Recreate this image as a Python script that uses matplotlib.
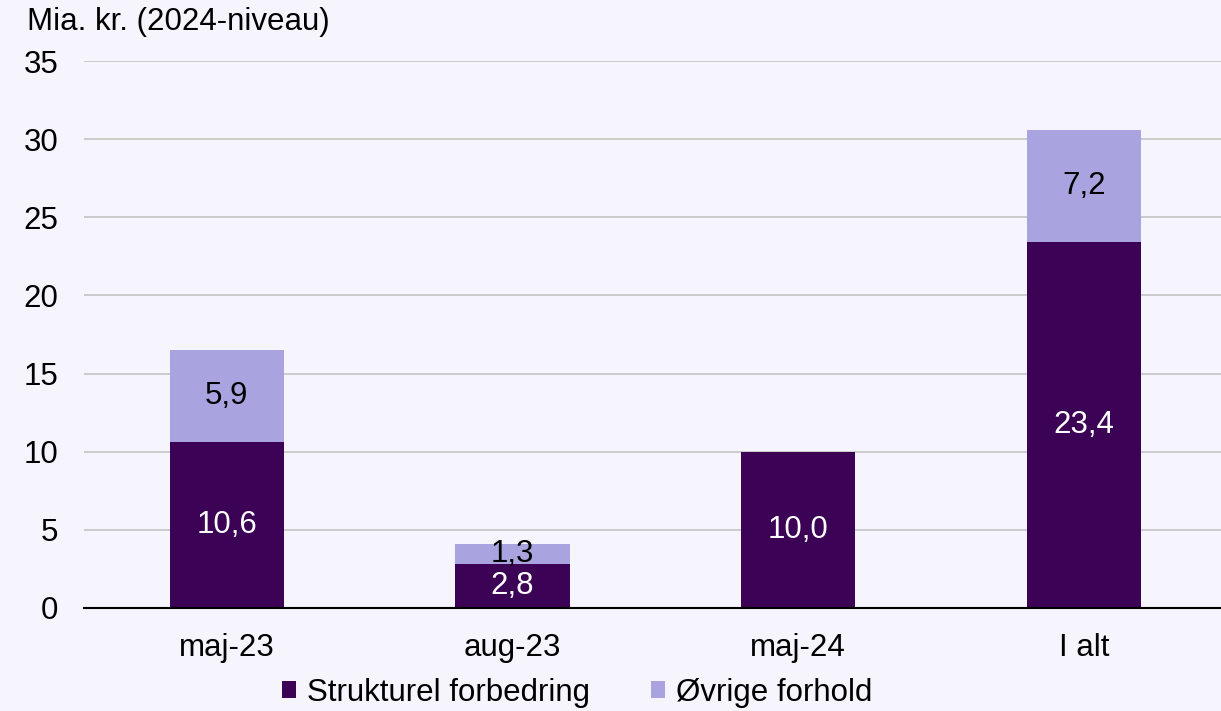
import matplotlib
matplotlib.use("Agg")
import matplotlib.pyplot as plt
import numpy as np

categories = ["maj-23", "aug-23", "maj-24", "I alt"]
strukturel = [10.6, 2.8, 10.0, 23.4]
ovrige = [5.9, 1.3, 0.0, 7.2]
series_names = ["Strukturel forbedring", "Øvrige forhold"]
yticks = [0, 5, 10, 15, 20, 25, 30, 35]

bg = "#F6F5FE"
dark = "#3B0256"
light = "#A9A4DF"

plt.rcParams['font.family'] = ['Liberation Sans', 'DejaVu Sans']

fig = plt.figure(figsize=(12.21, 7.11), dpi=100, facecolor=bg)
ax = fig.add_axes([0.0688, 0.1449, 0.9312, 0.7693], facecolor=bg)

x = np.arange(len(categories))
w = 0.4
b1 = ax.bar(x, strukturel, w, color=dark, label=series_names[0], zorder=3)
b2 = ax.bar(x, ovrige, w, bottom=strukturel, color=light, label=series_names[1], zorder=3)

fs = 22.5
for i in range(len(categories)):
    s = strukturel[i]
    o = ovrige[i]
    ax.text(x[i], s / 2, f"{s:.1f}".replace(".", ","), ha="center", va="center",
            color="white", fontsize=fs, zorder=4)
    if o > 0:
        ax.text(x[i], s + o / 2, f"{o:.1f}".replace(".", ","), ha="center", va="center",
                color="black", fontsize=fs, zorder=4)

ax.set_ylim(0, 35)
ax.set_xlim(-0.5, 3.48)
ax.set_yticks(yticks)
ax.set_yticklabels([str(t) for t in yticks], fontsize=fs)
ax.set_xticks(x)
ax.set_xticklabels(categories, fontsize=fs)
ax.tick_params(axis="y", length=0, pad=18.5)
ax.tick_params(axis="x", length=0, pad=18)
ax.grid(axis="y", color="#C8C8C8", linewidth=1.3, zorder=0)
for sp in ["top", "right", "left"]:
    ax.spines[sp].set_visible(False)
ax.spines["bottom"].set_color("black")
ax.spines["bottom"].set_linewidth(1.5)
ax.spines["bottom"].set_zorder(5)

fig.text(27 / 1221, 1 - 22 / 711, "Mia. kr. (2024-niveau)", fontsize=fs, ha="left", va="center")

leg = fig.legend(handles=[b1, b2], labels=series_names, loc="center",
                 bbox_to_anchor=(577 / 1221, 1 - 693 / 711), ncol=2, frameon=False,
                 fontsize=fs, handlelength=0.45, handleheight=0.45, handletextpad=0.35,
                 columnspacing=1.95, borderpad=0)

fig.savefig("out.png", dpi=100, facecolor=bg)
